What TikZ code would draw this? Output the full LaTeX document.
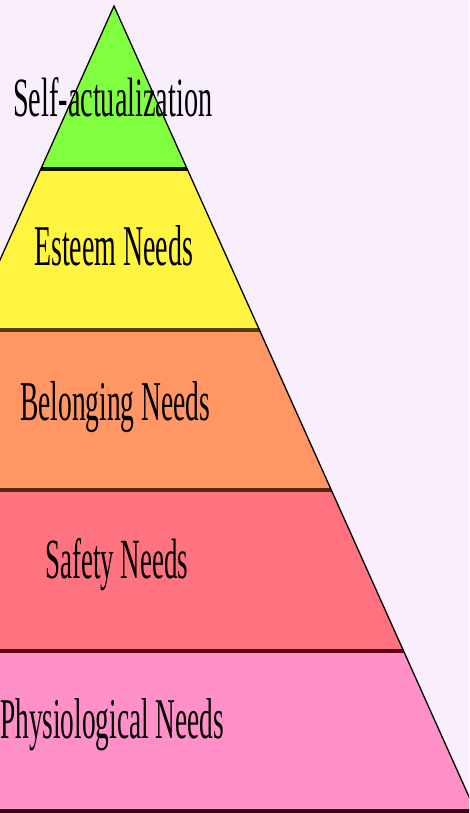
\documentclass[tikz,border=0pt]{standalone}
\usepackage{fontspec}
\setmainfont{Liberation Serif}
\usepackage{graphicx}
\definecolor{bgc}{RGB}{248,238,252}
\definecolor{lgreen}{RGB}{128,255,64}
\definecolor{lyellow}{RGB}{255,245,64}
\definecolor{lorange}{RGB}{255,150,100}
\definecolor{lred}{RGB}{255,115,128}
\definecolor{lpink}{RGB}{255,145,200}
\definecolor{sepA}{RGB}{20,20,0}
\definecolor{sepB}{RGB}{90,60,0}
\definecolor{sepC}{RGB}{90,40,16}
\definecolor{sepD}{RGB}{96,0,24}
\definecolor{sepE}{RGB}{48,0,24}
\tikzset{
  lbl/.style={anchor=base west, inner sep=0pt, text=black},
  sepline/.style={line width=3.2pt},
  edge/.style={line width=1.3pt, black, line join=miter}
}
\begin{document}
\begin{tikzpicture}[x=1pt,y=-1pt]
\useasboundingbox (0,0) rectangle (469,813);
\fill[bgc] (0,0) rectangle (469,813);
\begin{scope}
\clip (0,0) rectangle (469,813);
\coordinate (apex) at (114,6);
\coordinate (l1) at (40.8,169);   \coordinate (r1) at (187.2,169);
\coordinate (l2) at (-31.5,330);  \coordinate (r2) at (259.5,330);
\coordinate (l3) at (-103.3,490); \coordinate (r3) at (331.3,490);
\coordinate (l4) at (-175.6,651); \coordinate (r4) at (403.6,651);
\coordinate (l5) at (-247.4,811); \coordinate (r5) at (475.4,811);
\fill[lgreen] (apex) -- (r1) -- (l1) -- cycle;
\fill[lyellow] (l1) -- (r1) -- (r2) -- (l2) -- cycle;
\fill[lorange] (l2) -- (r2) -- (r3) -- (l3) -- cycle;
\fill[lred] (l3) -- (r3) -- (r4) -- (l4) -- cycle;
\fill[lpink] (l4) -- (r4) -- (r5) -- (l5) -- cycle;
\draw[sepline, sepA] (l1) -- (r1);
\draw[sepline, sepB] (l2) -- (r2);
\draw[sepline, sepC] (l3) -- (r3);
\draw[sepline, sepD] (l4) -- (r4);
\draw[line width=4pt, sepE] (l5) -- (r5);
\draw[edge] (l5) -- (apex) -- (r5);
\end{scope}
\node[lbl] (t1) at (13,117) {\resizebox{199pt}{39pt}{Self-actualization}};
\node[lbl] (t2) at (34,265) {\resizebox{159pt}{40pt}{Esteem Needs}};
\node[lbl] (t3) at (20,420) {\resizebox{190pt}{39pt}{Belonging Needs}};
\node[lbl] (t4) at (45,578) {\resizebox{143pt}{40pt}{Safety Needs}};
\node[lbl] (t5) at (0,738) {\resizebox{224pt}{40pt}{Physiological Needs}};
\end{tikzpicture}
\end{document}
